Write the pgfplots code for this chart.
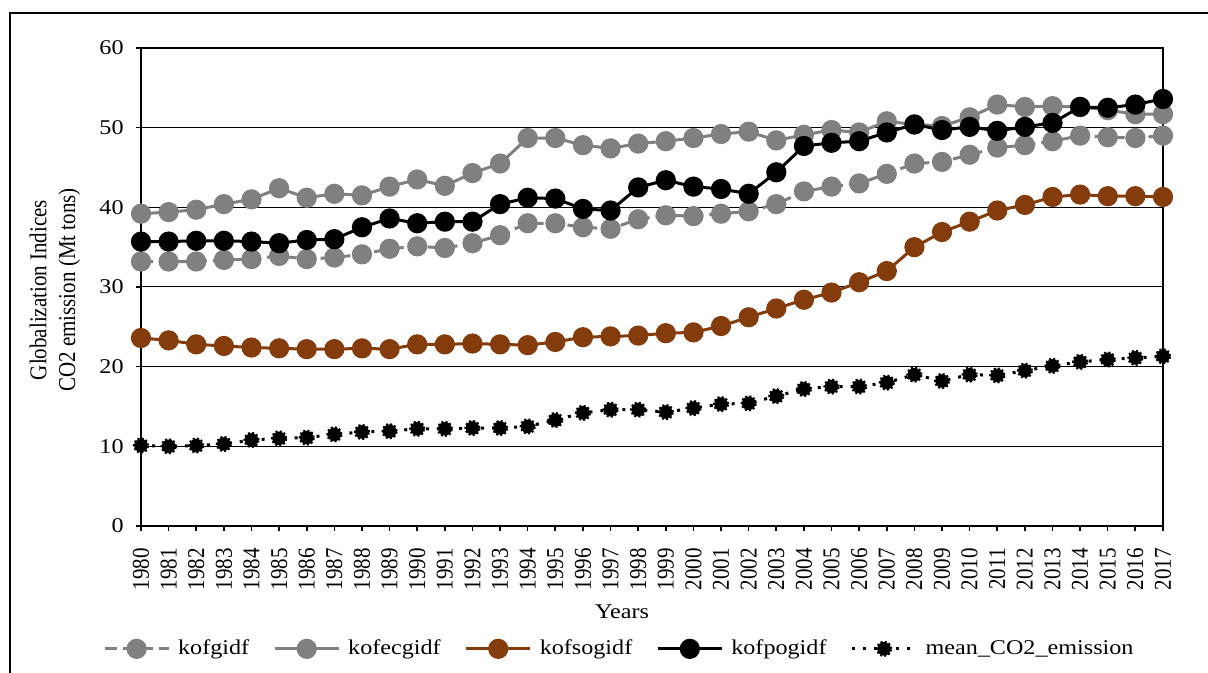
\documentclass[border=0pt]{standalone}
\usepackage{graphicx}
\usepackage{pgfplots}
\pgfplotsset{compat=1.18}
\usepackage{fontspec}
\setmainfont{Liberation Serif}
\newcommand{\hs}[1]{\scalebox{1.15}[1]{#1}}
\newcommand{\vs}[1]{\scalebox{1}[1.15]{#1}}
\definecolor{cgray}{RGB}{128,128,128}
\definecolor{cbrown}{RGB}{132,60,12}
\pgfplotstableread{
year kofgidf kofecgidf kofsogidf kofpogidf co2
1980 33.2 39.2 23.6 35.7 10.1
1981 33.2 39.4 23.3 35.7 10.0
1982 33.2 39.7 22.8 35.8 10.1
1983 33.4 40.4 22.6 35.8 10.3
1984 33.5 41.0 22.4 35.7 10.8
1985 33.9 42.4 22.3 35.5 11.0
1986 33.5 41.2 22.2 35.9 11.1
1987 33.7 41.7 22.2 36.0 11.5
1988 34.1 41.5 22.3 37.5 11.8
1989 34.8 42.6 22.2 38.6 11.9
1990 35.1 43.5 22.8 38.0 12.2
1991 34.9 42.7 22.8 38.2 12.2
1992 35.5 44.3 22.9 38.2 12.3
1993 36.5 45.5 22.8 40.4 12.3
1994 38.0 48.7 22.7 41.2 12.5
1995 38.0 48.7 23.1 41.1 13.3
1996 37.5 47.8 23.7 39.8 14.2
1997 37.3 47.4 23.8 39.6 14.6
1998 38.5 48.0 23.9 42.5 14.6
1999 39.0 48.3 24.2 43.4 14.3
2000 38.9 48.7 24.3 42.6 14.8
2001 39.2 49.2 25.1 42.3 15.3
2002 39.5 49.5 26.2 41.7 15.4
2003 40.4 48.4 27.3 44.4 16.3
2004 42.0 49.1 28.4 47.7 17.2
2005 42.6 49.7 29.3 48.1 17.5
2006 43.0 49.4 30.6 48.3 17.5
2007 44.2 50.8 32.0 49.4 18.0
2008 45.5 50.4 35.0 50.4 19.0
2009 45.7 50.2 36.9 49.7 18.2
2010 46.6 51.3 38.2 50.1 19.0
2011 47.5 52.9 39.6 49.6 18.9
2012 47.8 52.6 40.3 50.1 19.5
2013 48.3 52.7 41.3 50.6 20.1
2014 49.0 52.6 41.6 52.6 20.6
2015 48.8 52.2 41.4 52.5 20.9
2016 48.7 51.7 41.4 52.9 21.1
2017 49.0 51.7 41.3 53.6 21.3
}\datatable
\begin{document}
\begin{tikzpicture}
\useasboundingbox (0,0) rectangle (604pt,336.5pt);
\draw[line width=0.8pt] (5pt,0) -- (5pt,330pt) -- (604pt,330pt);
\begin{axis}[
  at={(70.5pt,73.5pt)}, anchor=south west,
  scale only axis, width=511pt, height=239pt,
  xmin=1980, xmax=2017, ymin=0, ymax=60,
  xtick={1980,...,2017}, ytick={0,10,...,60},
  tick align=outside, xtick pos=left, ytick pos=left,
  major tick length=2.5pt,
  tick style={black, line width=0.8pt},
  axis line style={line width=1pt},
  ymajorgrids, grid style={black, line width=0.5pt},
  /pgf/number format/1000 sep={},
  /pgf/number format/assume math mode=true,
  xticklabel={\vs{\pgfmathprintnumber{\tick}}},
  yticklabel={\hs{\pgfmathprintnumber{\tick}}},
  xticklabel style={font=\fontsize{10.5}{12}\selectfont, rotate=90, anchor=east, inner sep=0pt, xshift=-8.5pt},
  yticklabel style={font=\fontsize{10.5}{12}\selectfont, inner sep=0pt, xshift=-6pt},
  legend columns=5,
  legend style={draw=none, at={(0.469,-0.257)}, anchor=center,
    font=\fontsize{10.5}{12}\selectfont,
    /tikz/every odd column/.append style={column sep=2pt},
    /tikz/every even column/.append style={column sep=10pt}},
  legend image code/.code={\draw[#1] (0pt,0pt) -- (32pt,0pt); \draw[#1, mark repeat=2, mark phase=2] plot coordinates {(0pt,0pt) (16pt,0pt) (32pt,0pt)};},
  legend cell align=left,
]
\addplot[cgray, line width=1.5pt, dash pattern=on 6pt off 3pt, mark=*, mark size=4.3pt, mark options={solid, fill=cgray}] table[x=year,y=kofgidf]{\datatable};
\addlegendentry{\hs{kofgidf}}
\addplot[cgray, line width=1.5pt, mark=*, mark size=4.3pt, mark options={solid, fill=cgray}] table[x=year,y=kofecgidf]{\datatable};
\addlegendentry{\hs{kofecgidf}}
\addplot[cbrown, line width=1.5pt, mark=*, mark size=4.3pt, mark options={solid, fill=cbrown}] table[x=year,y=kofsogidf]{\datatable};
\addlegendentry{\hs{kofsogidf}}
\addplot[black, line width=1.5pt, mark=*, mark size=4.3pt, mark options={solid, fill=black}] table[x=year,y=kofpogidf]{\datatable};
\addlegendentry{\hs{kofpogidf}}
\addplot[black, line width=1.5pt, dash pattern=on 1.5pt off 4pt, mark=*, mark size=3.4pt, mark options={solid, fill=black, draw=black, line width=1.3pt, dash pattern=on 1pt off 1pt}] table[x=year,y=co2]{\datatable};
\addlegendentry{\hs{mean\_CO2\_emission}}
\end{axis}
\node[rotate=90, inner sep=0pt, font=\fontsize{10.5}{12.5}\selectfont] at (27.5pt,191.5pt) {\vs{\begin{tabular}{@{}c@{}}Globalization Indices\\CO2 emission (Mt tons)\end{tabular}}};
\node[font=\fontsize{10.5}{12}\selectfont] at (311pt,30.5pt) {\hs{Years}};
\end{tikzpicture}
\end{document}
